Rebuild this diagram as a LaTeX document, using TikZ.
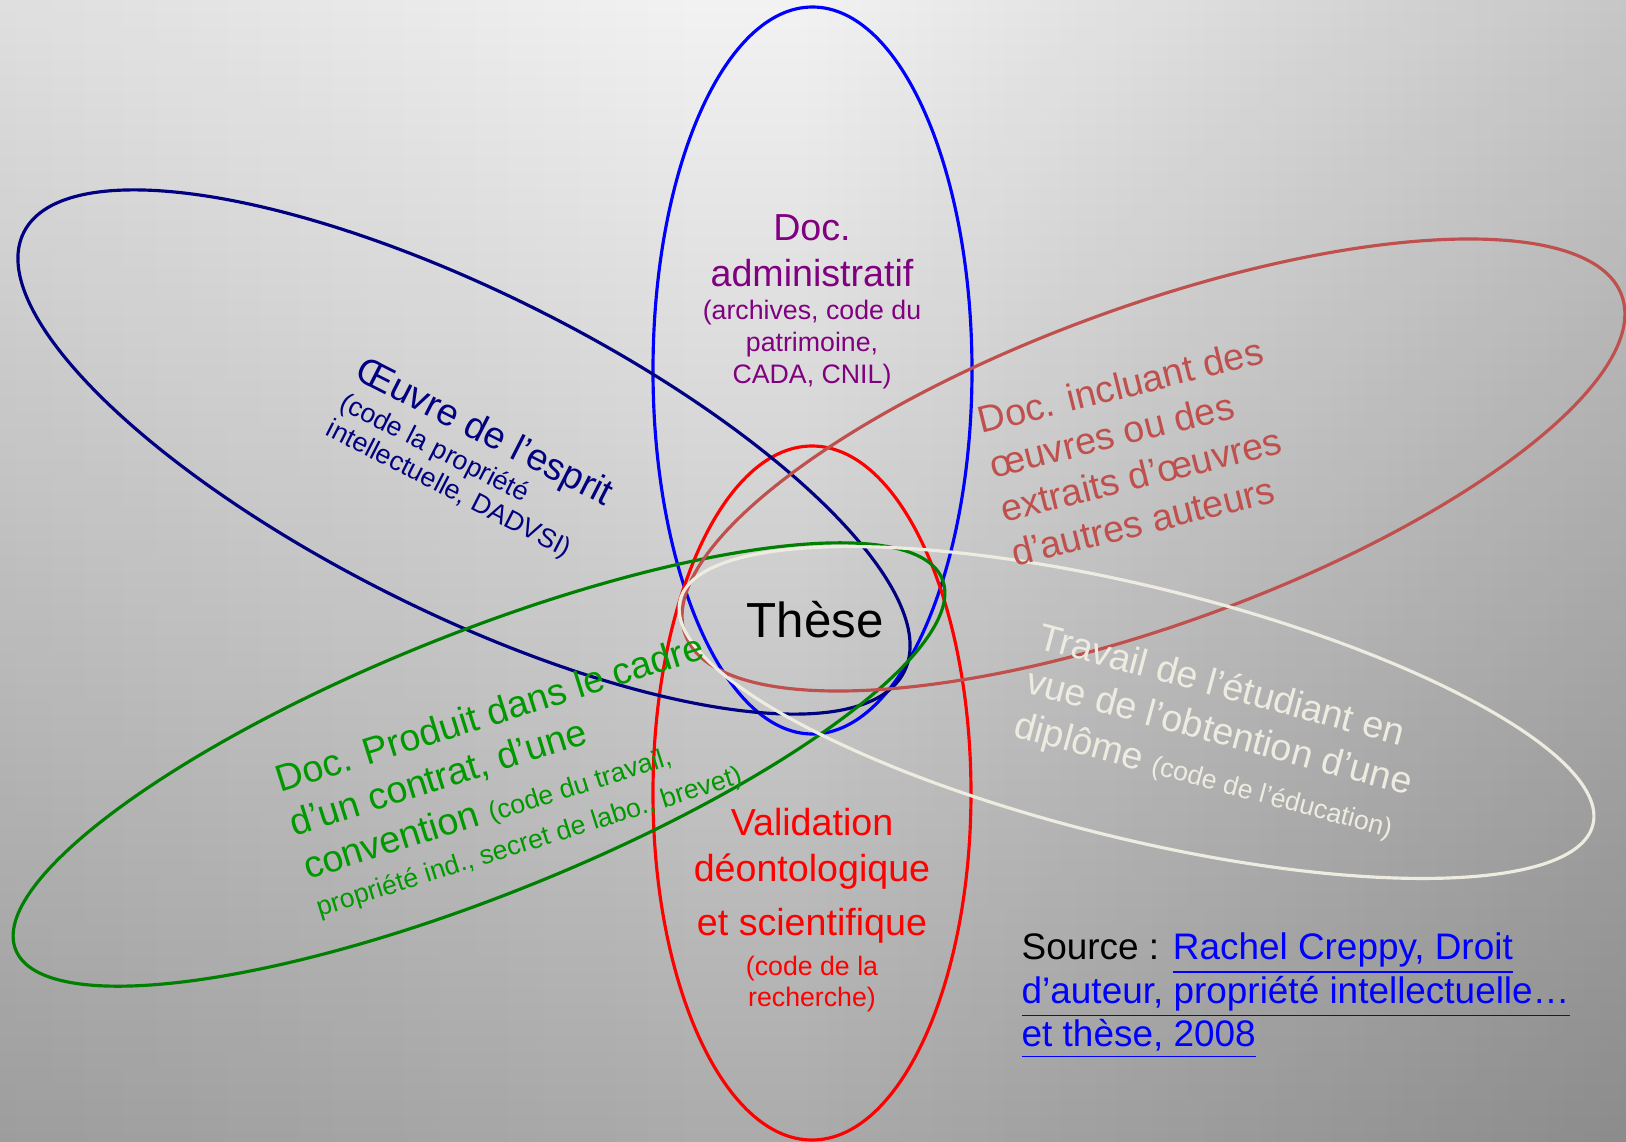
\documentclass[tikz,border=0pt]{standalone}
\usepackage{fontspec}
\setmainfont{Liberation Sans}
\usetikzlibrary{fadings}
\tikzfading[name=fondgauche, left color=transparent!0, right color=transparent!100]
\tikzfading[name=fonddroite, left color=transparent!100, right color=transparent!0]
\definecolor{marine}{HTML}{000080}
\definecolor{rosy}{HTML}{C0504D}
\definecolor{creme}{HTML}{EEECE1}
\definecolor{vertfonce}{HTML}{008000}
\definecolor{vertclair}{HTML}{009900}
\definecolor{prune}{HTML}{800080}
\newcommand{\petit}{\fontsize{7.6}{9.2}\selectfont}

\begin{document}
\begin{tikzpicture}[x=0.01cm, y=-0.01cm,
  ovale/.style={line width=0.9pt},
  etiquette/.style={font=\fontsize{10.7}{13}\selectfont, inner sep=0pt}]
\useasboundingbox (0,0) rectangle (1626,1142);
    % fond
\shade[top color=black!5, bottom color=black!33] (0,0) rectangle (1626,1142);
\fill[black, opacity=0.08, path fading=fondgauche] (0,0) rectangle (700,1142);
\fill[black, opacity=0.18, path fading=fonddroite] (800,0) rectangle (1626,1142);

% ellipses
\draw[ovale, blue] (812.5,370.5) ellipse [x radius=159.5, y radius=363.5];
\draw[ovale, red] (812,793) ellipse [x radius=159, y radius=347];
\draw[ovale, marine, rotate around={-26.5:(464,452)}] (464,452) ellipse [x radius=492, y radius=160];
\draw[ovale, vertfonce, rotate around={21.8:(479,764.5)}] (479,764.5) ellipse [x radius=499, y radius=131];
\draw[ovale, rosy, rotate around={19.9:(1153.5,465)}] (1153.5,465) ellipse [x radius=498, y radius=159];
\draw[ovale, creme, rotate around={-13.8:(1136.5,712.5)}] (1136.5,712.5) ellipse [x radius=470, y radius=126];

% textes
\node[etiquette, font=\fontsize{14}{16}\selectfont] (these) at (815,620) {Thèse};
\node[etiquette, prune, align=center] (admin) at (812,302)
  {Doc.\\administratif\\[-3.7pt]{\petit(archives, code du}\\[-3.8pt]{\petit patrimoine,}\\[-3.8pt]{\petit CADA, CNIL)}};
\node[etiquette, red, align=center] (valid) at (812,910)
  {Validation\\déontologique\\[2.5pt]et scientifique\\[-1.8pt]{\petit(code de la}\\[-4.1pt]{\petit recherche)}};
\node[etiquette, marine, align=left, rotate=-27] (oeuvre) at (470,461)
  {Œuvre de l’esprit\\[-3.5pt]{\petit(code la propriété}\\[-4.5pt]{\petit intellectuelle, DADVSI)}};
\node[etiquette, vertclair, align=left, rotate=17.5] (contrat) at (510,777)
  {Doc. Produit dans le cadre\\d’un contrat, d’une\\convention {\petit(code du travail,}\\[-2pt]{\petit propriété ind., secret de labo., brevet)}};
\node[etiquette, rosy, align=left, rotate=14] (auteurs) at (1137,452)
  {Doc. incluant des\\œuvres ou des\\extraits d’œuvres\\d’autres auteurs};
\node[etiquette, creme, align=left, rotate=-15] (etudiant) at (1219,734)
  {Travail de l’étudiant en\\vue de l’obtention d’une\\diplôme {\petit(code de l’éducation)}};

\node[etiquette, font=\fontsize{10.5}{12.4}\selectfont, anchor=north west, align=left] (source) at (1021,932)
  {Source : \textcolor{blue}{\underline{Rachel Creppy, Droit}}\\\textcolor{blue}{\underline{d’auteur, propriété intellectuelle…}}\\\textcolor{blue}{\underline{et thèse, 2008}}};
\end{tikzpicture}
\end{document}
